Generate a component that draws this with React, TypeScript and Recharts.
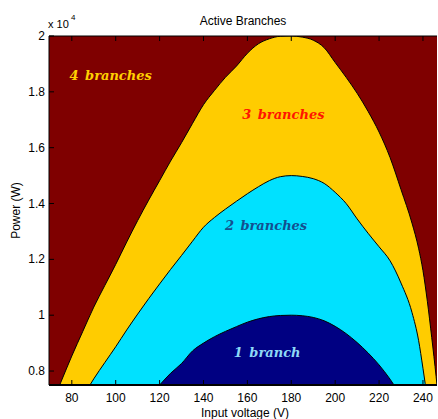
import { AreaChart, Area, XAxis, YAxis, CartesianGrid, ReferenceDot } from 'recharts';

// input voltage grid (V)
const voltage = [70, 75, 80, 85, 90, 95, 100, 105, 110, 115, 120, 125, 130, 135, 140, 145, 150, 155, 160, 165, 170, 175, 180, 185, 190, 195, 200, 205, 210, 215, 220, 225, 230, 235, 238, 240, 242, 244, 246, 248];

// upper edge of the "3 branches" region (W)
const edge3 = [6650, 7600, 8540, 9420, 10290, 11060, 11820, 12620, 13390, 14120, 14820, 15520, 16180, 16870, 17540, 18050, 18520, 18920, 19380, 19720, 19900, 19990, 20000, 19960, 19850, 19580, 19050, 18520, 17950, 17300, 16560, 15650, 14500, 13300, 12400, 11600, 10500, 9200, 7800, 6200];
// upper edge of the "2 branches" region (W)
const edge2 = [4990, 5700, 6400, 7070, 7720, 8300, 8870, 9470, 10040, 10590, 11120, 11640, 12140, 12650, 13150, 13500, 13800, 14080, 14350, 14600, 14820, 14960, 15000, 14970, 14890, 14720, 14400, 14000, 13450, 12935, 12450, 11950, 11150, 10100, 9100, 8100, 7000, 5800, 4600, 3400];
// upper edge of the "1 branch" region (W)
const edge1 = [3330, 3800, 4270, 4700, 5150, 5530, 5910, 6300, 6700, 7080, 7500, 7920, 8270, 8720, 9000, 9230, 9420, 9590, 9750, 9870, 9950, 9990, 10000, 9980, 9920, 9800, 9600, 9340, 9020, 8650, 8220, 7710, 7100, 6400, 5900, 5500, 4900, 4300, 3600, 2900];

const xTicks = [80, 100, 120, 140, 160, 180, 200, 220, 240];
const yTicks = [8000, 10000, 12000, 14000, 16000, 18000, 20000];

const regionLabels = [
  { text: '4\u2002branches', v: 97.7, p: 18600, color: '#FFD000' },
  { text: '3\u2002branches', v: 176.4, p: 17200, color: '#FF1500' },
  { text: '2\u2002branches', v: 168.5, p: 13230, color: '#13508F' },
  { text: '1\u2002branch', v: 169, p: 8650, color: '#8ED8F6' },
];

const data = voltage.map((v, i) => ({ v, p3: edge3[i], p2: edge2[i], p1: edge1[i] }));

const SANS = '"Liberation Sans", Arial, sans-serif';

const BottomTick = ({ x, y, payload }: any) => (
  <g>
    <line x1={x} y1={y} x2={x} y2={y - 5} stroke="#000" />
    <text x={x} y={y + 17} textAnchor="middle" fontSize={12} fontFamily={SANS} fill="#000">
      {payload.value}
    </text>
  </g>
);

const TopTick = ({ x, y }: any) => <line x1={x} y1={y} x2={x} y2={y + 5} stroke="#000" />;

const LeftTick = ({ x, y, payload }: any) => (
  <g>
    <line x1={x} y1={y} x2={x + 5} y2={y} stroke="#000" />
    <text x={x - 4} y={y + 4} textAnchor="end" fontSize={12} fontFamily={SANS} fill="#000">
      {String(payload.value / 10000)}
    </text>
  </g>
);

export default function App() {
  return (
    <div style={{ position: 'absolute', left: 0, top: 0, background: '#fff' }}>
      <AreaChart width={438} height={419} data={data} margin={{ top: 0, right: 1, bottom: 0, left: 0 }}>
        <CartesianGrid horizontal={false} vertical={false} fill="#7F0000" />
        <XAxis
          dataKey="v"
          type="number"
          domain={[69.6, 246.4]}
          allowDataOverflow
          ticks={xTicks}
          interval={0}
          height={34}
          tickSize={0}
          tickMargin={0}
          tick={<BottomTick />}
          axisLine={{ stroke: '#000', strokeWidth: 2 }}
          label={(props: any) => {
            const vb = props.viewBox;
            return (
              <text x={vb.x + vb.width / 2 + 2} y={vb.y + 32} textAnchor="middle" fontSize={12} fontFamily={SANS} fill="#000">
                Input voltage (V)
              </text>
            );
          }}
        />
        <XAxis
          xAxisId="top"
          orientation="top"
          dataKey="v"
          type="number"
          domain={[69.6, 246.4]}
          allowDataOverflow
          ticks={xTicks}
          interval={0}
          height={36}
          tickSize={0}
          tickMargin={0}
          tick={<TopTick />}
          axisLine={{ stroke: '#000', strokeWidth: 1 }}
          label={(props: any) => {
            const vb = props.viewBox;
            return (
              <text x={vb.x + vb.width / 2} y={25} textAnchor="middle" fontSize={12} fontFamily={SANS} fill="#000">
                Active Branches
              </text>
            );
          }}
        />
        <YAxis
          type="number"
          domain={[7500, 20000]}
          allowDataOverflow
          ticks={yTicks}
          interval={0}
          width={49}
          tickSize={0}
          tickMargin={0}
          tick={<LeftTick />}
          axisLine={{ stroke: '#000', strokeWidth: 1 }}
          label={(props: any) => {
            const vb = props.viewBox;
            const cy = vb.y + vb.height / 2;
            return (
              <g>
                <text x={16} y={cy} transform={`rotate(-90 16 ${cy})`} textAnchor="middle" dominantBaseline="central" fontSize={12} fontFamily={SANS} fill="#000">
                  Power (W)
                </text>
                <text x={48} y={vb.y - 8} fontSize={11} fontFamily={SANS} fill="#000">x 10</text>
                <text x={71} y={vb.y - 16} fontSize={8} fontFamily={SANS} fill="#000">4</text>
              </g>
            );
          }}
        />
        <Area type="monotone" dataKey="p3" stroke="#000" strokeWidth={1} fill="#FFCC00" fillOpacity={1} dot={false} activeDot={false} isAnimationActive={false} />
        <Area type="monotone" dataKey="p2" stroke="#000" strokeWidth={1} fill="#00E1FF" fillOpacity={1} dot={false} activeDot={false} isAnimationActive={false} />
        <Area type="monotone" dataKey="p1" stroke="#000" strokeWidth={1} fill="#000082" fillOpacity={1} dot={false} activeDot={false} isAnimationActive={false} />
        {regionLabels.map((l) => (
          <ReferenceDot
            key={l.text}
            x={l.v}
            y={l.p}
            r={0}
            ifOverflow="visible"
            shape={(p: any) => (
              <text x={p.cx} y={p.cy} textAnchor="middle" dominantBaseline="central" fontSize={13} fontStyle="italic" fontWeight="bold" fontFamily='"DejaVu Serif", serif' fill={l.color}>
                {l.text}
              </text>
            )}
          />
        ))}
      </AreaChart>
    </div>
  );
}
